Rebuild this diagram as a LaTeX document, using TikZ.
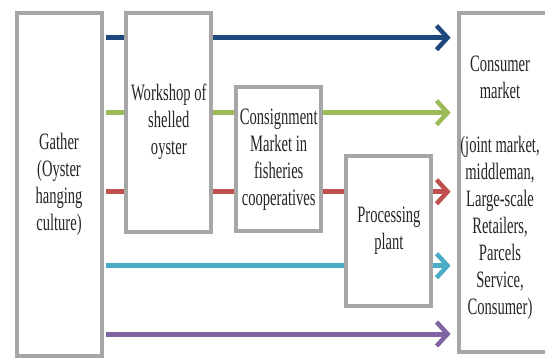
\documentclass[tikz,border=0pt]{standalone}
\usepackage{fontspec}
\setmainfont{Liberation Serif}[FakeStretch=0.62]
\usetikzlibrary{arrows.meta}
\definecolor{boxgray}{RGB}{166,166,166}
\definecolor{cblue}{RGB}{31,73,125}
\definecolor{cgreen}{RGB}{155,187,89}
\definecolor{cred}{RGB}{192,80,77}
\definecolor{ccyan}{RGB}{75,172,198}
\definecolor{cpurple}{RGB}{128,100,162}
\begin{document}
\begin{tikzpicture}[x=1pt,y=-1pt,
  stagebox/.style={draw=boxgray,line width=4pt,fill=white,inner sep=0pt,anchor=north west,minimum width=85pt},
  lbl/.style={font=\fontsize{23.5}{27}\selectfont,align=center,inner sep=0pt,text=black!85},
  flow/.style={line width=5pt,-{Straight Barb[length=11pt,width=24pt,line width=4.5pt]},shorten <=2.5pt,shorten >=6pt}]
\useasboundingbox (0,0) rectangle (545,358);
% boxes
\node[stagebox,minimum height=343pt] (gather) at (14.5,10.7) {};
\node[stagebox,minimum width=110pt,minimum height=339pt] (consumer) at (456.6,10.7) {};
% flow lines (behind intermediate boxes)
\draw[flow,cblue]   (gather.east |- 0,37.7)  -- (consumer.west |- 0,37.7);
\draw[flow,cgreen]  (gather.east |- 0,112.7) -- (consumer.west |- 0,112.7);
\draw[flow,cred]    (gather.east |- 0,191.7) -- (consumer.west |- 0,191.7);
\draw[flow,ccyan]   (gather.east |- 0,265.7) -- (consumer.west |- 0,265.7);
\draw[flow,cpurple] (gather.east |- 0,334)   -- (consumer.west |- 0,334);
% intermediate boxes
\node[stagebox,minimum height=219pt] (workshop) at (124.3,10.7) {};
\node[stagebox,minimum height=144pt] (consign) at (234.2,85.3) {};
\node[stagebox,minimum height=150pt] (process) at (344.4,153.7) {};
% labels
\node[lbl] (gatherlbl) at (gather.center) {Gather\\(Oyster\\hanging\\culture)};
\node[lbl] (workshoplbl) at (workshop.center) {Workshop of\\shelled\\oyster};
\node[lbl] (consignlbl) at (consign.center) {Consignment\\Market in\\fisheries\\cooperatives};
\node[lbl] (processlbl) at (process.center) {Processing\\plant};
\node[lbl] (consumerlbl) at (500,188) {Consumer\\market\\[27pt](joint market,\\middleman,\\Large-scale\\Retailers,\\Parcels\\Service,\\Consumer)};
\end{tikzpicture}
\end{document}
